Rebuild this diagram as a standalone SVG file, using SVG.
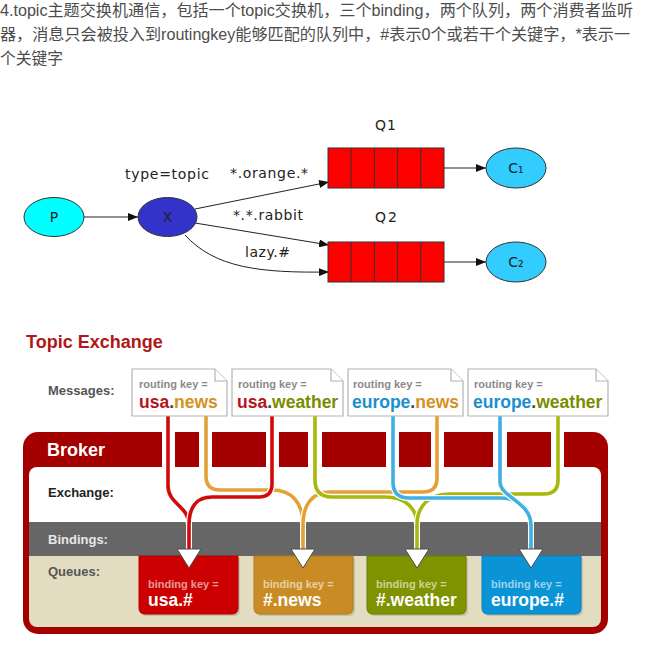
<svg xmlns="http://www.w3.org/2000/svg" width="657" height="651" viewBox="0 0 657 651">
<style>
.intro{font-family:"Liberation Sans","Noto Sans CJK SC",sans-serif;font-size:16px;fill:#4d4d4d}
.gv{font-family:"DejaVu Sans",sans-serif;font-size:14px;fill:#222}
.node{stroke:#333;stroke-width:1}
.edge{fill:none;stroke:#222;stroke-width:1}
.b{font-family:"Liberation Sans",Arial,sans-serif;font-weight:bold}
.rk{font-size:11px;fill:#8a8a8a}
.big{font-size:17.5px}
.bk{font-size:11px;fill:#ffffff;fill-opacity:0.6}
.qname{font-size:17.5px;fill:#ffffff}
.under{fill:none;stroke:#ffffff;stroke-width:6}
.ln{fill:none;stroke-width:3.6;stroke-linecap:butt}
.card{fill:#ffffff;stroke:#b3b3b3;stroke-width:1.2}
.tri{fill:#ffffff;stroke:#4a4a4a;stroke-width:1}
</style>
<defs>
<marker id="ah" markerUnits="userSpaceOnUse" markerWidth="11" markerHeight="8" refX="10" refY="4" orient="auto">
<path d="M0,0 L10,4 L0,8 Z" fill="#111"/>
</marker>
<clipPath id="panel"><rect x="29" y="467" width="572" height="160" rx="8"/></clipPath>
</defs>
<rect width="657" height="651" fill="#ffffff"/>

<g id="intro">
<text class="intro" x="0" y="16" textLength="633" lengthAdjust="spacingAndGlyphs">4.topic主题交换机通信，包括一个topic交换机，三个binding，两个队列，两个消费者监听</text>
<text class="intro" x="0" y="40" textLength="630" lengthAdjust="spacingAndGlyphs">器，消息只会被投入到routingkey能够匹配的队列中，#表示0个或若干个关键字，*表示一</text>
<text class="intro" x="0" y="64" textLength="63" lengthAdjust="spacingAndGlyphs">个关键字</text>
</g>

<g id="connectors">
<line class="edge" x1="84" y1="217" x2="138" y2="217" marker-end="url(#ah)"/>
<line class="edge" x1="195" y1="209" x2="329" y2="182" marker-end="url(#ah)"/>
<line class="edge" x1="195" y1="223" x2="329" y2="245" marker-end="url(#ah)"/>
<path class="edge" d="M185,235 C215,268 260,273 329,272" marker-end="url(#ah)"/>
<line class="edge" x1="444" y1="168" x2="486" y2="168" marker-end="url(#ah)"/>
<line class="edge" x1="444" y1="262" x2="486" y2="262" marker-end="url(#ah)"/>
<text class="gv" x="125" y="179" textLength="84" lengthAdjust="spacing">type=topic</text>
<text class="gv" x="230" y="178" textLength="78" lengthAdjust="spacing">*.orange.*</text>
<text class="gv" x="233" y="220" textLength="70" lengthAdjust="spacing">*.*.rabbit</text>
<text class="gv" x="245" y="257" textLength="45" lengthAdjust="spacing">lazy.#</text>
</g>

<g id="P"><ellipse class="node" cx="54" cy="217" rx="30" ry="19.5" fill="#00ffff"/><text class="gv" x="54" y="222" text-anchor="middle">P</text></g>
<g id="X"><ellipse class="node" cx="167.5" cy="217" rx="29.5" ry="19.5" fill="#3333cc"/><text class="gv" x="167.5" y="222" text-anchor="middle">X</text></g>
<g id="Q1">
<text class="gv" x="375" y="130" textLength="21" lengthAdjust="spacing">Q1</text>
<rect class="node" x="328" y="148" width="116" height="40" fill="#ff0000"/>
<path d="M351.2,148V188M374.4,148V188M397.6,148V188M420.8,148V188" stroke="#333" stroke-width="1"/>
</g>
<g id="Q2">
<text class="gv" x="375" y="222" textLength="22" lengthAdjust="spacing">Q2</text>
<rect class="node" x="328" y="242" width="116" height="40" fill="#ff0000"/>
<path d="M351.2,242V282M374.4,242V282M397.6,242V282M420.8,242V282" stroke="#333" stroke-width="1"/>
</g>
<g id="C1"><ellipse class="node" cx="516" cy="168" rx="30" ry="20" fill="#33ccff"/><text class="gv" x="516" y="173" text-anchor="middle">C₁</text></g>
<g id="C2"><ellipse class="node" cx="516" cy="262" rx="30" ry="20" fill="#33ccff"/><text class="gv" x="516" y="267" text-anchor="middle">C₂</text></g>

<g id="topic-exchange">
<text class="b" x="26" y="348" font-size="18" fill="#b01818">Topic Exchange</text>
<text class="b" x="48" y="395" font-size="13" fill="#555">Messages:</text>
</g>

<g id="broker">
<rect x="23" y="432" width="585" height="202" rx="15" fill="#a50000"/>
<g clip-path="url(#panel)">
<rect x="29" y="467" width="572" height="55" fill="#ffffff"/>
<rect x="29" y="522" width="572" height="34" fill="#666666"/>
<rect x="29" y="556" width="572" height="71" fill="#e2dcc1"/>
</g>
<g fill="#ffffff">
<rect x="162" y="431" width="13" height="37"/>
<rect x="199" y="431" width="13" height="37"/>
<rect x="266" y="431" width="13" height="37"/>
<rect x="308" y="431" width="14" height="37"/>
<rect x="386" y="431" width="13" height="37"/>
<rect x="431" y="431" width="13" height="37"/>
<rect x="493" y="431" width="14" height="37"/>
<rect x="551" y="431" width="13" height="37"/>
</g>
<text class="b" x="47" y="456" font-size="18" fill="#ffffff">Broker</text>
<text class="b" x="48" y="497" font-size="13" fill="#222">Exchange:</text>
<text class="b" x="48" y="544" font-size="13" fill="#e6e6e6">Bindings:</text>
<text class="b" x="48" y="576" font-size="13" fill="#555">Queues:</text>
</g>

<g id="bindings">
<path class="under" d="M206,416 V476 Q206,490 220,490 H272 C292,490 303,503 303,525 V552"/>
<path class="ln" stroke="#e3a137" d="M206,416 V476 Q206,490 220,490 H272 C292,490 303,503 303,525 V552"/>
<path class="under" d="M437,416 V478 Q437,492 423,492 H330 C312,492 303,505 303,525 V552"/>
<path class="ln" stroke="#e3a137" d="M437,416 V478 Q437,492 423,492 H330 C312,492 303,505 303,525 V552"/>
<path class="under" d="M315,416 V480 Q315,497 332,497 H385 C405,497 417,508 417,525 V552"/>
<path class="ln" stroke="#a8b90c" d="M315,416 V480 Q315,497 332,497 H385 C405,497 417,508 417,525 V552"/>
<path class="under" d="M558,416 V480 Q558,494 544,494 H450 C430,494 417,505 417,525 V552"/>
<path class="ln" stroke="#a8b90c" d="M558,416 V480 Q558,494 544,494 H450 C430,494 417,505 417,525 V552"/>
<path class="under" d="M393,416 V482 Q393,498 409,498 H500 C520,498 531,508 531,525 V552"/>
<path class="ln" stroke="#3fb0e4" d="M393,416 V482 Q393,498 409,498 H500 C520,498 531,508 531,525 V552"/>
<path class="under" d="M500,416 V482 C500,497 531,502 531,525 V552"/>
<path class="ln" stroke="#3fb0e4" d="M500,416 V482 C500,497 531,502 531,525 V552"/>
<path class="under" d="M168,416 V486 C168,504 189,506 189,525 V552"/>
<path class="ln" stroke="#d10a0a" d="M168,416 V486 C168,504 189,506 189,525 V552"/>
<path class="under" d="M272,416 V484 Q272,497 259,497 H212 C196,497 189,508 189,525 V552"/>
<path class="ln" stroke="#d10a0a" d="M272,416 V484 Q272,497 259,497 H212 C196,497 189,508 189,525 V552"/>
</g>

<g id="msg-usa-news">
<path class="card" d="M132,369 H215 L227,381 V416 H132 Z"/><path class="card" d="M215,369 V381 H227"/>
<text class="b rk" x="139" y="388">routing key =</text>
<text class="b big" x="139" y="408"><tspan fill="#b5121b">usa</tspan><tspan fill="#444">.</tspan><tspan fill="#d4921f">news</tspan></text>
</g>
<g id="msg-usa-weather">
<path class="card" d="M232,369 H331 L343,381 V416 H232 Z"/><path class="card" d="M331,369 V381 H343"/>
<text class="b rk" x="238" y="388">routing key =</text>
<text class="b big" x="237" y="408"><tspan fill="#b5121b">usa</tspan><tspan fill="#444">.</tspan><tspan fill="#7a8c00">weather</tspan></text>
</g>
<g id="msg-europe-news">
<path class="card" d="M348,369 H451 L463,381 V416 H348 Z"/><path class="card" d="M451,369 V381 H463"/>
<text class="b rk" x="353" y="388">routing key =</text>
<text class="b big" x="352" y="408"><tspan fill="#1b8fcf">europe</tspan><tspan fill="#444">.</tspan><tspan fill="#d4921f">news</tspan></text>
</g>
<g id="msg-europe-weather">
<path class="card" d="M468,369 H596 L608,381 V416 H468 Z"/><path class="card" d="M596,369 V381 H608"/>
<text class="b rk" x="474" y="388">routing key =</text>
<text class="b big" x="473" y="408"><tspan fill="#1b8fcf">europe</tspan><tspan fill="#444">.</tspan><tspan fill="#7a8c00">weather</tspan></text>
</g>

<g id="queue-usa">
<path d="M141,558 H240 V610 Q240,616 234,616 H147 Q141,616 141,610 Z" fill="#000" fill-opacity="0.12"/>
<path d="M139,556 H238 V608 Q238,614 232,614 H145 Q139,614 139,608 Z" fill="#cc0000" stroke="#b30000"/>
<text class="b bk" x="148" y="588">binding key =</text>
<text class="b qname" x="148" y="606">usa.#</text>
<polygon class="tri" points="177,549 201,549 189,568"/>
</g>
<g id="queue-news">
<path d="M256,558 H355 V610 Q355,616 349,616 H262 Q256,616 256,610 Z" fill="#000" fill-opacity="0.12"/>
<path d="M254,556 H353 V608 Q353,614 347,614 H260 Q254,614 254,608 Z" fill="#c98c25" stroke="#b07a1e"/>
<text class="b bk" x="263" y="588">binding key =</text>
<text class="b qname" x="263" y="606">#.news</text>
<polygon class="tri" points="291,549 315,549 303,568"/>
</g>
<g id="queue-weather">
<path d="M369,558 H468 V610 Q468,616 462,616 H375 Q369,616 369,610 Z" fill="#000" fill-opacity="0.12"/>
<path d="M367,556 H466 V608 Q466,614 460,614 H373 Q367,614 367,608 Z" fill="#7f9200" stroke="#6d7d00"/>
<text class="b bk" x="376" y="588">binding key =</text>
<text class="b qname" x="376" y="606">#.weather</text>
<polygon class="tri" points="405,549 429,549 417,568"/>
</g>
<g id="queue-europe">
<path d="M484,558 H583 V610 Q583,616 577,616 H490 Q484,616 484,610 Z" fill="#000" fill-opacity="0.12"/>
<path d="M482,556 H581 V608 Q581,614 575,614 H488 Q482,614 482,608 Z" fill="#0a94d6" stroke="#0880bb"/>
<text class="b bk" x="491" y="588">binding key =</text>
<text class="b qname" x="491" y="606">europe.#</text>
<polygon class="tri" points="519,549 543,549 531,568"/>
</g>
</svg>
